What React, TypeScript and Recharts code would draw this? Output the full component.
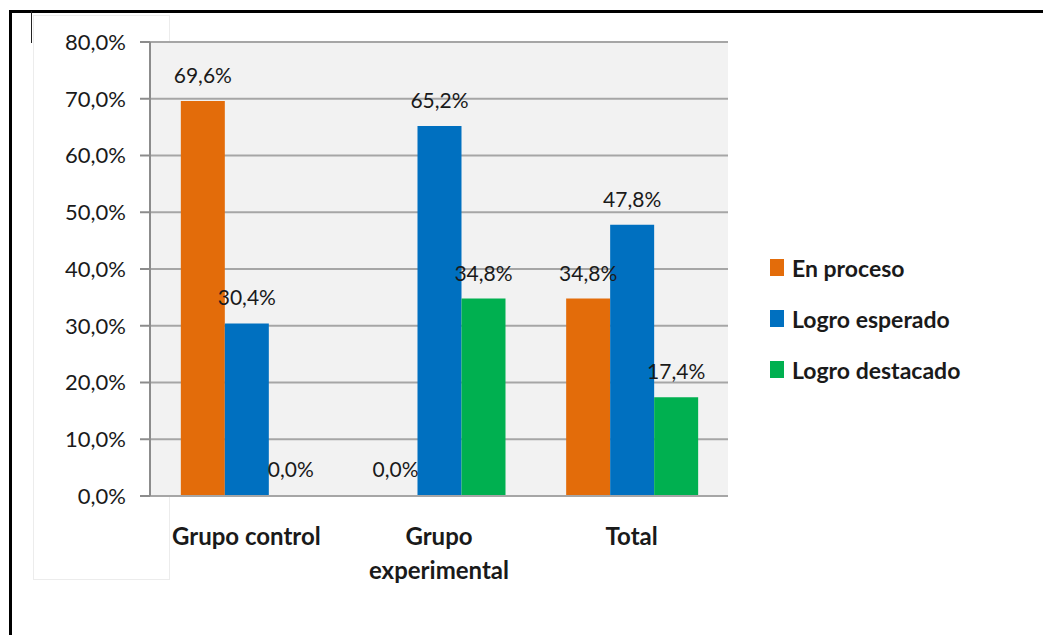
import { BarChart, Bar, XAxis, YAxis, CartesianGrid, Legend, LabelList, Cell } from "recharts";

const CATEGORIES = ["Grupo control", "Grupo experimental", "Total"];
const EN_PROCESO = [69.6, 0.0, 34.8];
const LOGRO_ESPERADO = [30.4, 65.2, 47.8];
const LOGRO_DESTACADO = [0.0, 34.8, 17.4];
const Y_TICKS = [0, 10, 20, 30, 40, 50, 60, 70, 80];

const SERIES = [
  { key: "enProceso", name: "En proceso", color: "#E36C0A" },
  { key: "logroEsperado", name: "Logro esperado", color: "#0070C0" },
  { key: "logroDestacado", name: "Logro destacado", color: "#00B050" },
];

const data = CATEGORIES.map((c, i) => ({
  name: c,
  enProceso: EN_PROCESO[i],
  logroEsperado: LOGRO_ESPERADO[i],
  logroDestacado: LOGRO_DESTACADO[i],
}));

const FONT = "Lato, 'Noto Sans', sans-serif";
const pct = (v: number) => `${Number(v).toFixed(1).replace(".", ",")}%`;

// long category names break onto two lines, like in the sheet
function CategoryTick(props: any) {
  const { x, y, payload } = props;
  const text: string = payload.value;
  const lines = text.length > 14 ? text.split(" ") : [text];
  return (
    <text
      x={x}
      y={y + 41}
      textAnchor="middle"
      fontFamily={FONT}
      fontWeight={700}
      fontSize={24}
      fill="#1a1a1a"
    >
      {lines.map((l, i) => (
        <tspan key={i} x={x} dy={i === 0 ? 0 : 34}>
          {l}
        </tspan>
      ))}
    </text>
  );
}

function LegendContent() {
  return (
    <div style={{ fontFamily: FONT }}>
      {SERIES.map((s) => (
        <div
          key={s.key}
          style={{ display: "flex", alignItems: "center", height: 51 }}
        >
          <span
            style={{
              width: 14,
              height: 17,
              background: s.color,
              display: "inline-block",
              marginRight: 8,
            }}
          />
          <span style={{ fontSize: 23, fontWeight: 700, color: "#1a1a1a" }}>
            {s.name}
          </span>
        </div>
      ))}
    </div>
  );
}

export default function App() {
  return (
    <div
      style={{
        position: "absolute",
        left: 0,
        top: 0,
        width: 1043,
        height: 635,
        background: "#fff",
        overflow: "hidden",
      }}
    >
      {/* page frame bits */}
      <div style={{ position: "absolute", left: 9, top: 10, width: 1034, height: 3, background: "#000" }} />
      <div style={{ position: "absolute", left: 9, top: 10, width: 3, height: 625, background: "#000" }} />
      <div style={{ position: "absolute", left: 31, top: 11, width: 1, height: 32, background: "#222" }} />
      <div
        style={{
          position: "absolute",
          left: 33,
          top: 15,
          width: 137,
          height: 565,
          border: "1px solid #ececec",
          boxSizing: "border-box",
        }}
      />
      <div style={{ position: "absolute", left: 0, top: 0 }}>
        <BarChart
          width={1043}
          height={635}
          data={data}
          margin={{ top: 42, right: 55, bottom: 39, left: 0 }}
          barCategoryGap="16%"
          barGap={0}
        >
          <CartesianGrid
            vertical={false}
            stroke="#a6a6a6"
            strokeWidth={2}
            fill="#f2f2f2"
          />
          <XAxis
            dataKey="name"
            height={100}
            axisLine={{ stroke: "#a6a6a6", strokeWidth: 2 }}
            tickLine={false}
            tick={<CategoryTick />}
            interval={0}
          />
          <YAxis
            width={150}
            domain={[0, 80]}
            ticks={Y_TICKS}
            tickFormatter={pct}
            axisLine={{ stroke: "#8c8c8c", strokeWidth: 2 }}
            tickLine={{ stroke: "#8c8c8c", strokeWidth: 2 }}
            tickSize={10}
            tickMargin={14}
            tick={{ fontFamily: FONT, fontSize: 22, fill: "#1a1a1a" }}
          />
          <Legend
            layout="vertical"
            align="right"
            verticalAlign="top"
            content={<LegendContent />}
            wrapperStyle={{ left: 770, top: 242, width: 260 }}
          />
          {SERIES.map((s) => (
            <Bar
              key={s.key}
              dataKey={s.key}
              name={s.name}
              fill={s.color}
              minPointSize={1}
              isAnimationActive={false}
            >
              {data.map((d: any, i) => (
                <Cell key={i} fill={d[s.key] === 0 ? "transparent" : s.color} />
              ))}
              <LabelList
                dataKey={s.key}
                position="top"
                offset={18}
                formatter={pct}
                style={{ fontFamily: FONT, fontSize: 21, fill: "#1a1a1a" }}
              />
            </Bar>
          ))}
        </BarChart>
      </div>
    </div>
  );
}
